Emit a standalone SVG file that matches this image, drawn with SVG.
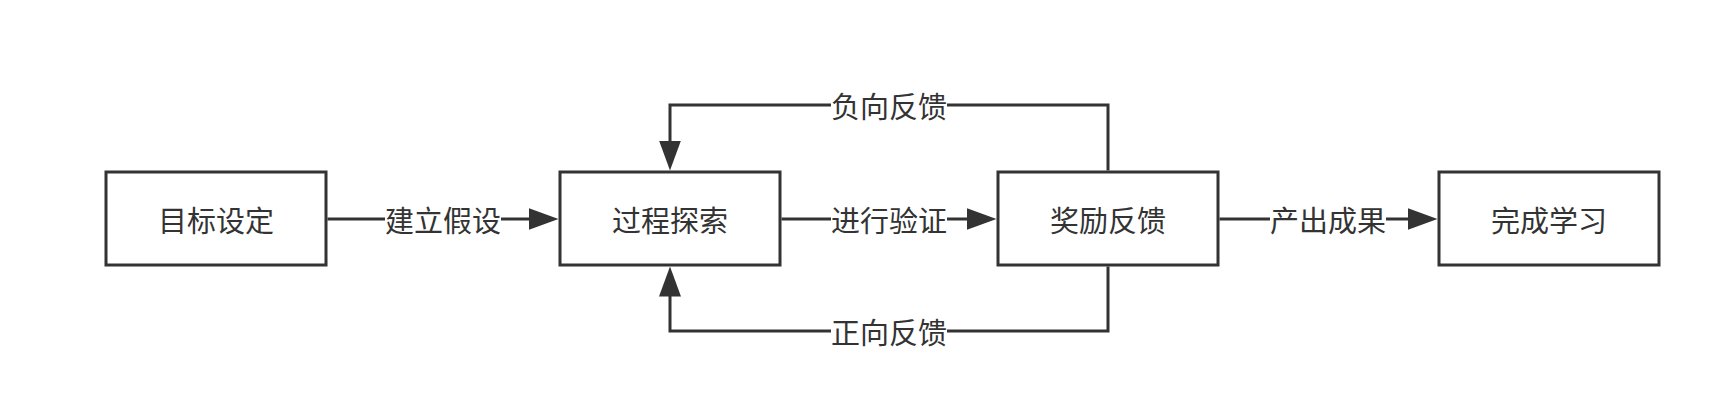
<svg xmlns="http://www.w3.org/2000/svg" width="1729" height="403" viewBox="0 0 1729 403">
<style>
.box{fill:#fff;stroke:#333;stroke-width:3}
.ln{fill:none;stroke:#333;stroke-width:3}
.t{font-family:"Noto Sans CJK SC","Noto Sans",sans-serif;font-size:29px;fill:#333;text-anchor:middle;dominant-baseline:central}
.bg{fill:#fff}
</style>
<defs>
<marker id="arr" viewBox="0 0 30 22" refX="24" refY="11" markerWidth="30" markerHeight="22" markerUnits="userSpaceOnUse" orient="auto">
<path d="M0,0 L30,11 L0,22 z" fill="#333"/>
</marker>
</defs>
<rect width="1729" height="403" fill="#fff"/>
<g id="connectors">
<path class="ln" d="M327.5,219 H552.5" marker-end="url(#arr)"/>
<path class="ln" d="M781.5,219 H990.5" marker-end="url(#arr)"/>
<path class="ln" d="M1219.5,219 H1431.5" marker-end="url(#arr)"/>
<path class="ln" d="M1108,170.5 V105 H670 V164.5" marker-end="url(#arr)"/>
<path class="ln" d="M1108,266.5 V331 H670 V272.5" marker-end="url(#arr)"/>
<rect class="bg" x="385" y="203" width="116" height="32"/>
<text class="t" x="443" y="219">建立假设</text>
<rect class="bg" x="831" y="203" width="116" height="32"/>
<text class="t" x="889" y="219">进行验证</text>
<rect class="bg" x="1270" y="203" width="116" height="32"/>
<text class="t" x="1328" y="219">产出成果</text>
<rect class="bg" x="831" y="89" width="116" height="32"/>
<text class="t" x="889" y="105">负向反馈</text>
<rect class="bg" x="831" y="315" width="116" height="32"/>
<text class="t" x="889" y="331">正向反馈</text>
</g>
<g id="n1"><rect class="box" x="106" y="172" width="220" height="93"/><text class="t" x="216" y="219">目标设定</text></g>
<g id="n2"><rect class="box" x="560" y="172" width="220" height="93"/><text class="t" x="670" y="219">过程探索</text></g>
<g id="n3"><rect class="box" x="998" y="172" width="220" height="93"/><text class="t" x="1108" y="219">奖励反馈</text></g>
<g id="n4"><rect class="box" x="1439" y="172" width="220" height="93"/><text class="t" x="1549" y="219">完成学习</text></g>
</svg>
